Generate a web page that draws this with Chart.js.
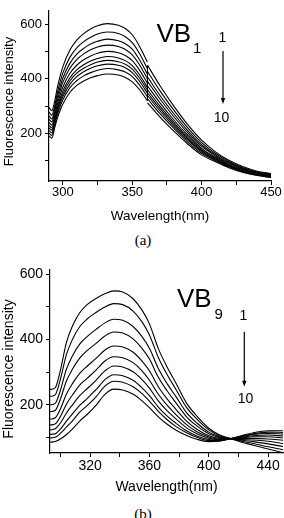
<!DOCTYPE html>
<html><head><meta charset="utf-8">
<script src="https://cdn.jsdelivr.net/npm/chart.js@4.4.1/dist/chart.umd.min.js"></script>
<style>
html,body{margin:0;padding:0;background:#fff;width:284px;height:518px;overflow:hidden;position:relative;}
canvas{position:absolute;left:0;}
#ca{top:0;} #cb{top:258px;}
.lab{position:absolute;left:0;width:284px;text-align:center;font-family:"Liberation Serif","Times New Roman",serif;font-size:15px;line-height:16px;color:#000;}
</style></head><body>
<canvas id="ca" width="284" height="224"></canvas>
<div class="lab" style="top:232px;left:1px">(a)</div>
<canvas id="cb" width="284" height="238"></canvas>
<div class="lab" style="top:506px;left:1px">(b)</div>
<script>
// ---------- Panel (a): VB1 ----------
const xA = [290,292,294,296,298,300,305,310,315,320,325,332,340,345,350,355,360.9,361,370,380,390,400,410,420,430,440,450];
const a1  = [295,283,315,368,410,445,505,542,566,583,595,603,597,585,562,522,462,450,375,300,232,175,132,100,77,61,52];
const a2  = [278,267,299,349,389,422,479,514,537,553,565,572,567,555,533,495,438,427,356,285,220,166,126,96,74,58,50];
const a3  = [264,253,285,333,371,403,457,491,512,528,538,546,540,529,509,472,418,407,339,272,210,158,121,92,71,56,48];
const a4  = [252,242,274,320,356,387,439,471,492,507,517,524,519,508,488,454,401,391,326,261,202,152,117,89,68,54,46];
const a5  = [240,230,262,306,341,370,420,450,470,484,494,501,496,486,467,434,384,374,312,249,193,145,112,85,66,52,44];
const a6  = [229,220,252,294,328,356,403,433,452,466,475,482,477,467,449,417,369,360,300,240,185,140,109,82,63,50,43];
const a7  = [220,212,244,286,318,345,392,421,439,452,462,468,463,454,436,405,359,349,291,233,180,136,106,80,62,49,42];
const a8  = [210,202,237,277,309,335,380,408,426,439,448,454,450,441,423,393,348,339,282,226,175,132,103,78,60,48,41];
const a9  = [200,192,229,267,298,323,367,393,411,423,432,438,433,425,408,379,335,327,272,218,168,127,100,76,58,46,39];
const a10 = [190,182,218,255,284,308,350,376,392,404,412,418,414,405,389,362,320,312,260,208,161,121,96,73,56,45,38];
const seriesA = [a1,a2,a3,a4,a5,a6,a7,a8,a9,a10];
const stepA = 361;            // detector step in panel (a)
const xTicksA = [300,325,350,375,400,425,450];
const xLabelsA = [300,350,400,450];
const yTicksA = [100,200,300,400,500,600];
const yLabelsA = [200,400,600];

// ---------- Panel (b): VB9 ----------
const xB = [293,295,297,300,304,308,313,318,324,330,336,342,349,355,360,366,372,378,385,392,400,407,415,422,430,440,450];
const b1  = [247,248,256,305,390,440,482,507,526,540,549,546,525,490,448,372,315,265,205,165,128,108,96,85,76,64,53];
const b2  = [226,227,234,278,353,399,439,463,483,500,510,507,487,454,414,345,292,246,192,156,123,105,96,88,81,71,62];
const b3  = [200,201,207,244,308,349,386,409,431,451,462,459,440,409,373,311,264,224,176,144,116,102,96,91,87,80,72];
const b4  = [179,180,185,217,272,308,343,366,388,411,423,420,402,373,340,284,242,205,163,135,111,100,96,93,92,88,81];
const b5  = [156,157,162,187,232,264,296,318,342,368,380,377,361,334,304,255,217,185,150,125,105,97,96,96,97,95,91];
const b6  = [138,139,143,164,201,229,260,281,306,334,347,344,329,304,275,232,198,169,139,117,101,95,96,98,102,102,98];
const b7  = [123,124,128,144,174,199,228,249,275,304,319,316,301,277,251,212,181,156,129,111,97,93,96,100,105,107,104];
const b8  = [109,110,112,125,149,171,198,219,246,277,292,289,275,252,228,193,165,143,120,104,93,91,96,102,109,112,110];
const b9  = [98,99,101,112,131,150,177,197,224,257,272,269,255,234,211,180,154,133,114,100,90,90,96,103,111,116,115];
const b10 = [85,86,88,95,108,125,150,170,198,232,248,245,232,212,191,163,140,122,106,94,87,88,96,105,114,120,120];
const seriesB = [b1,b2,b3,b4,b5,b6,b7,b8,b9,b10];
const xTicksB = [300,320,340,360,380,400,420,440];
const xLabelsB = [320,360,400,440];
const yTicksB = [100,200,300,400,500,600];
const yLabelsB = [200,400,600];

const SANS = '"Liberation Sans", Arial, Helvetica, sans-serif';

function annotPlugin(o){
  return {
    id:'annot'+o.sub,
    afterDraw(chart){
      const c = chart.ctx;
      c.save();
      c.fillStyle='#000'; c.strokeStyle='#000';
      c.textBaseline='alphabetic'; c.textAlign='left';
      c.font = o.vbSize+'px '+SANS;
      c.fillText('VB', o.vbX, o.vbY);
      c.font = '15px '+SANS;
      c.fillText(o.sub, o.subX, o.subY);
      c.textAlign='center';
      c.font = '14px '+SANS;
      c.fillText('1', o.oneX, o.oneY);
      c.fillText('10', o.tenX, o.tenY);
      c.lineWidth = 1.2;
      c.beginPath(); c.moveTo(o.arX, o.arY1); c.lineTo(o.arX, o.arY2-4); c.stroke();
      c.beginPath(); c.moveTo(o.arX-2.2, o.arY2-6); c.lineTo(o.arX+2.2, o.arY2-6); c.lineTo(o.arX, o.arY2); c.closePath(); c.fill();
      c.translate(o.tX, o.tY); c.rotate(-Math.PI/2);
      c.textAlign='center'; c.textBaseline='middle';
      c.font = o.tSize+'px '+SANS;
      c.fillText('Fluorescence intensity', 0, 0);
      c.restore();
    }
  };
}

function buildData(xs, s, gapAt){
  const pts = [];
  for (let j=0;j<s.length;j++){
    if (gapAt !== null && xs[j] >= gapAt && j>0 && xs[j-1] < gapAt) pts.push({x:(xs[j-1]+xs[j])/2, y:null});
    pts.push({x:xs[j], y:s[j]});
  }
  return pts;
}

function makeChart(id, xs, series, p){
  const datasets = series.map((s,i)=>({
    label: String(i+1),
    data: buildData(xs, s, p.gapAt),
    borderColor:'#000', borderWidth:1.1, pointRadius:0, fill:false, spanGaps:false,
    cubicInterpolationMode:'monotone'
  }));
  if (p.gapAt !== null){
    // vertical step line joining the curves at the detector switch
    const iL = xs.findIndex(v=>v>=p.gapAt)-1;
    const iR = iL+1;
    const top = Math.max(...series.map(s=>s[iR]));
    const bot = Math.min(...series.map(s=>s[iL]));
    datasets.push({label:'step', data:[{x:p.gapAt-0.05,y:top},{x:p.gapAt-0.05,y:bot}],
      borderColor:'#000', borderWidth:1.1, pointRadius:0, fill:false, tension:0});
  }
  return new Chart(document.getElementById(id), {
    type:'line',
    data:{datasets},
    options:{
      responsive:false, animation:false, devicePixelRatio:1,
      layout:{padding:{top:p.padTop, right:p.padRight, left:0, bottom:0}},
      plugins:{legend:{display:false}, tooltip:{enabled:false}},
      scales:{
        x:{type:'linear', min:p.xMin, max:p.xMax,
          afterBuildTicks:s=>{s.ticks = p.xTicks.map(v=>({value:v}));},
          afterFit:s=>{s.height = p.xH;},
          ticks:{autoSkip:false, maxRotation:0, minRotation:0, padding:p.xPad, color:'#000',
            font:{family:SANS, size:p.tickSize},
            callback:v=> p.xLabels.includes(v) ? String(v) : ''},
          grid:{display:true, drawOnChartArea:false, drawTicks:true, tickLength:4, color:'#000', lineWidth:1},
          border:{display:true, color:'#000', width:1.2},
          title:{display:true, text:'Wavelength(nm)', color:'#000', font:{family:SANS, size:p.titleSize}, padding:0}
        },
        y:{type:'linear', min:p.yMin, max:p.yMax,
          afterBuildTicks:s=>{s.ticks = p.yTicks.map(v=>({value:v}));},
          afterFit:s=>{s.width = p.yW;},
          ticks:{autoSkip:false, padding:3, color:'#000',
            font:{family:SANS, size:p.tickSize},
            callback:v=> p.yLabels.includes(v) ? String(v) : ''},
          grid:{display:true, drawOnChartArea:false, drawTicks:true, tickLength:4, color:'#000', lineWidth:1},
          border:{display:true, color:'#000', width:1.2},
          title:{display:false}
        }
      }
    },
    plugins:[annotPlugin(p.annot)]
  });
}

makeChart('ca', xA, seriesA, {
  gapAt:stepA,
  padTop:3, padRight:13, xMin:290, xMax:450, yMin:25, yMax:650,
  xTicks:xTicksA, xLabels:xLabelsA, yTicks:yTicksA, yLabels:yLabelsA,
  xH:43, yW:49, xPad:0, tickSize:13, titleSize:13.5,
  annot:{vbSize:26, vbX:156.5, vbY:42, sub:'1', subX:193, subY:52.5,
    oneX:222.5, oneY:41.5, tenX:221.5, tenY:121.5, arX:223, arY1:51, arY2:104,
    tX:9, tY:101.5, tSize:13}
});

makeChart('cb', xB, seriesB, {
  gapAt:null,
  padTop:4, padRight:1, xMin:293, xMax:450, yMin:52, yMax:615,
  xTicks:xTicksB, xLabels:xLabelsB, yTicks:yTicksB, yLabels:yLabelsB,
  xH:43, yW:50, xPad:1, tickSize:14, titleSize:14,
  annot:{vbSize:26, vbX:177, vbY:49.3, sub:'9', subX:214.5, subY:61,
    oneX:243.5, oneY:62, tenX:245.5, tenY:145, arX:244.3, arY1:73.7, arY2:128.7,
    tX:9, tY:111, tSize:14}
});
</script>
</body></html>
